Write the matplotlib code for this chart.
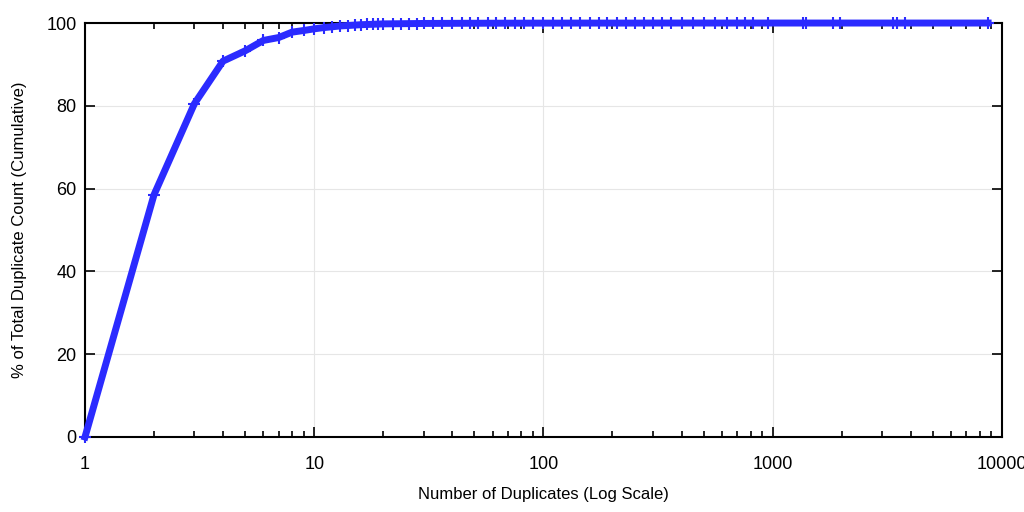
import matplotlib.pyplot as plt
from matplotlib.ticker import LogLocator, FixedLocator, NullFormatter

plt.rcParams['font.family'] = ['Liberation Sans', 'DejaVu Sans']

# number of duplicates (x) and cumulative % of total duplicate count (y)
dups = [1, 2, 3, 4, 5, 6, 7, 8, 9, 10, 11, 12, 13, 14, 15, 16, 17, 18, 19, 20,
        22, 24, 26, 28, 30, 33, 36, 40, 44, 48, 52, 57, 62, 68, 75, 82, 90,
        100, 110, 120, 132, 145, 160, 175, 190, 210, 230, 250, 275, 300, 330,
        360, 400, 450, 500, 560, 630, 700, 760, 820, 955, 1350, 1400, 1830,
        1960, 3330, 3500, 3780, 8700]
cum_pct = [0, 58.5, 80.5, 90.8, 93.3, 95.8, 96.5, 97.8, 98.2, 98.6, 98.9, 99.1,
           99.3, 99.4, 99.5, 99.6, 99.65, 99.7, 99.75, 99.8,
           99.82, 99.84, 99.86, 99.88, 99.9, 99.91, 99.92, 99.93, 99.94, 99.95,
           99.95, 99.96, 99.96, 99.97, 99.97, 99.97, 99.98,
           99.98, 99.98, 99.98, 99.99, 99.99, 99.99, 99.99, 99.99, 99.99, 99.99,
           99.99, 99.99, 100, 100, 100, 100, 100, 100, 100, 100, 100, 100, 100,
           100, 100, 100, 100, 100, 100, 100, 100, 100]

fig = plt.figure(figsize=(10.24, 5.12), dpi=100)
ax = fig.add_axes([0.083, 0.1465, 0.8955, 0.8085])

ax.plot(dups, cum_pct, color='#2b2bff', linewidth=5, marker='+',
        markersize=8, markeredgewidth=1.5, solid_joinstyle='round', zorder=3,
        clip_on=False)

ax.set_xscale('log')
ax.set_xlim(1, 10000)
ax.set_ylim(0, 100)
ax.xaxis.set_major_locator(FixedLocator([1, 10, 100, 1000, 10000]))
ax.set_xticklabels(['1', '10', '100', '1000', '10000'])
ax.xaxis.set_minor_locator(LogLocator(base=10, subs=range(2, 10)))
ax.xaxis.set_minor_formatter(NullFormatter())
ax.set_yticks([0, 20, 40, 60, 80, 100])

ax.grid(True, which='major', color='#e6e6e6', linewidth=0.8)
ax.set_axisbelow(True)

ax.tick_params(which='both', direction='in', top=True, right=True,
               labelsize=13, colors='black')
ax.tick_params(axis='x', which='major', length=7, width=1.2, pad=14)
ax.tick_params(axis='x', which='minor', length=4, width=1.2)
ax.tick_params(axis='y', which='major', length=7, width=1.2, pad=6)

for s in ax.spines.values():
    s.set_linewidth(1.5)
    s.set_color('black')

ax.set_xlabel('Number of Duplicates (Log Scale)', fontsize=12, labelpad=10)
ax.set_ylabel('% of Total Duplicate Count (Cumulative)', fontsize=12,
              labelpad=14)

fig.savefig('out.png', dpi=100)
